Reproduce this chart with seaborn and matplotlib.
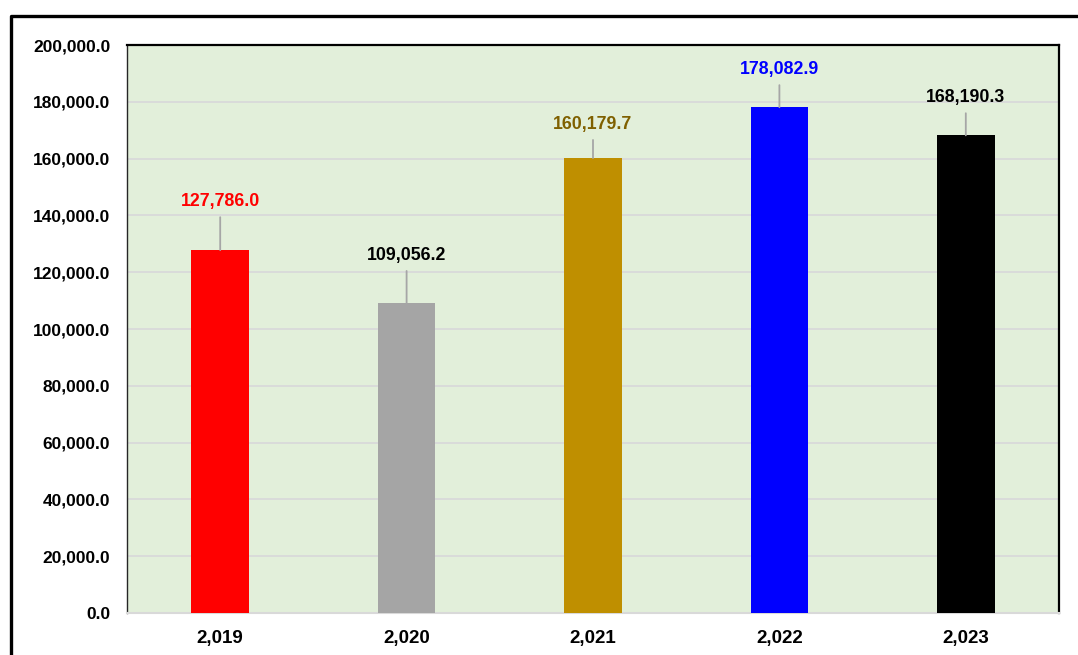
import pandas as pd
import seaborn as sns
import matplotlib.pyplot as plt
from matplotlib.lines import Line2D
from matplotlib.ticker import FuncFormatter

# values
years = ["2,019", "2,020", "2,021", "2,022", "2,023"]
values = [127786.0, 109056.2, 160179.7, 178082.9, 168190.3]
bar_colors = ["#FF0000", "#A5A5A5", "#BF8F00", "#0000FF", "#000000"]
label_colors = ["#FF0000", "#000000", "#7F6000", "#0000FF", "#000000"]
label_gap = [17200, 17000, 12000, 13400, 13400]

df = pd.DataFrame({"year": years, "value": values})

sns.set_style("white")
plt.rcParams['font.family'] = ['Liberation Sans', 'DejaVu Sans']

fig = plt.figure(figsize=(10.78, 6.55), dpi=100)
ax = fig.add_axes([127/1078, 1 - 613/655, (1059 - 127)/1078, (613 - 45)/655])
ax.set_facecolor("#E2EFDA")

sns.barplot(data=df, x="year", y="value", hue="year", palette=bar_colors,
            width=0.31, legend=False, ax=ax, zorder=3, saturation=1,
            linewidth=0, edgecolor="none")

ax.set_ylim(0, 200000)
ax.set_yticks(range(0, 200001, 20000))
ax.yaxis.set_major_formatter(FuncFormatter(lambda v, p: f"{v:,.1f}"))
ax.grid(axis="y", color="#D9D9D9", lw=1.3, zorder=0)
ax.set_axisbelow(True)
ax.set_xlabel("")
ax.set_ylabel("")
ax.tick_params(length=0, labelcolor="black")
ax.tick_params(axis="y", pad=12, labelsize=12.5)
ax.tick_params(axis="x", pad=12, labelsize=13.5)
for lab in ax.get_xticklabels() + ax.get_yticklabels():
    lab.set_fontweight("bold")

for side in ["top", "right"]:
    ax.spines[side].set_color("black")
    ax.spines[side].set_linewidth(1.6)
ax.spines["left"].set_color("#262626")
ax.spines["left"].set_linewidth(1.0)
ax.spines["bottom"].set_color("#D9D9D9")
ax.spines["bottom"].set_linewidth(1.5)

# data labels with leader lines
for i, v in enumerate(values):
    ax.annotate(f"{v:,.1f}", xy=(i, v), xytext=(i, v + label_gap[i]),
                ha="center", va="center", fontsize=12.8, fontweight="bold",
                color=label_colors[i],
                arrowprops=dict(arrowstyle="-", color="#A6A6A6", lw=1.3,
                                shrinkA=3, shrinkB=0))

# outer chart border (cut off at right and bottom)
fig.add_artist(Line2D([11/1078, 11/1078, 1.0], [0, 1 - 16/655, 1 - 16/655],
                      transform=fig.transFigure, color="black", lw=2.4))

fig.savefig("out.png", dpi=100)
